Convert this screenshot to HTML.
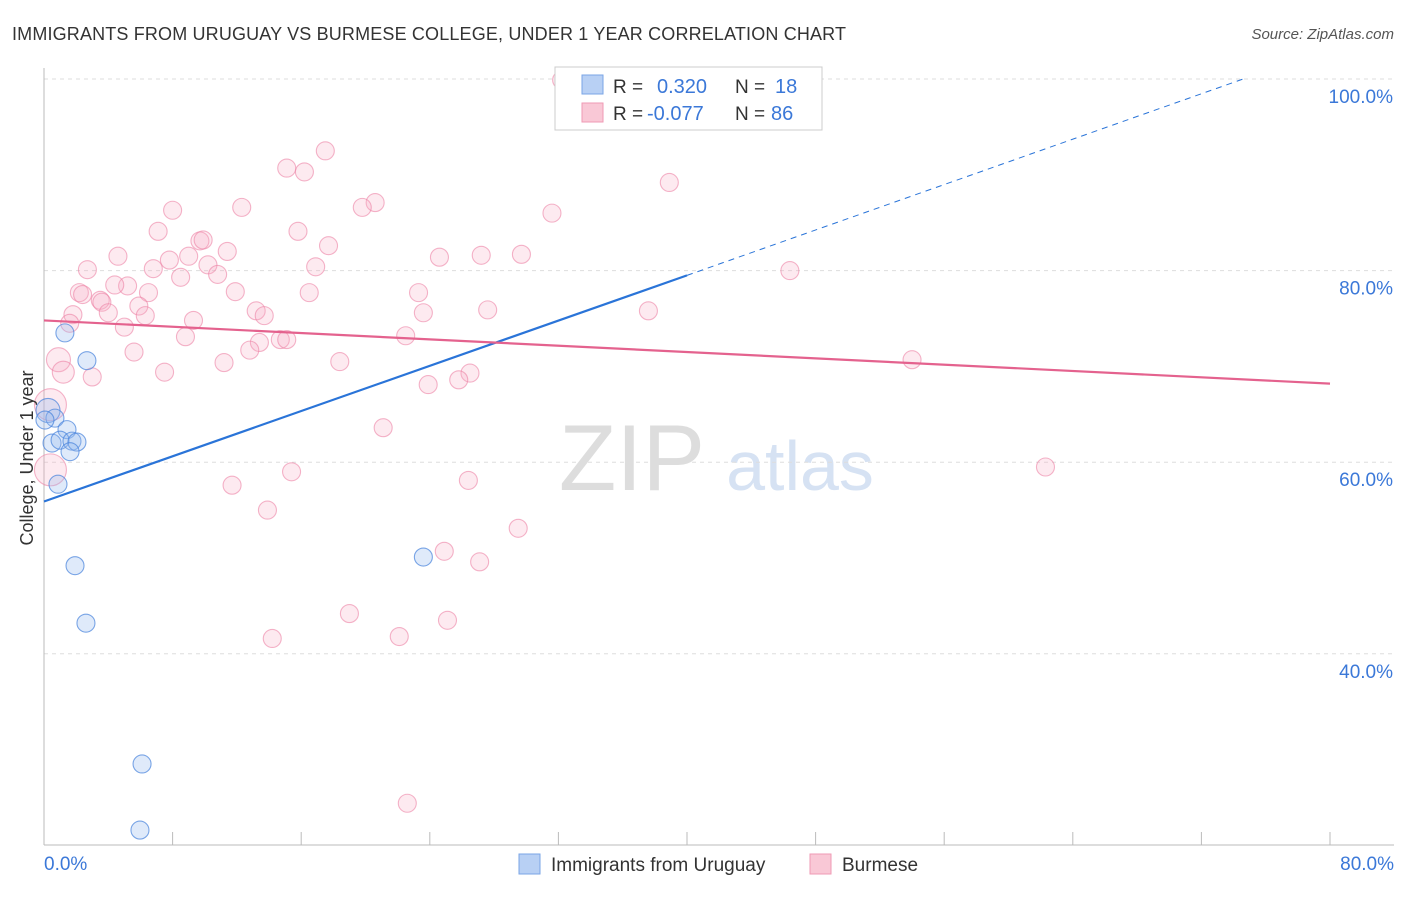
<!DOCTYPE html>
<html><head><meta charset="utf-8"><style>
body{margin:0;background:#fff;font-family:"Liberation Sans",sans-serif}
svg text{font-family:"Liberation Sans",sans-serif}
</style></head><body>
<svg id="c" width="1406" height="892" xmlns="http://www.w3.org/2000/svg">
<text x="12" y="40" font-size="18" fill="#333" textLength="834">IMMIGRANTS FROM URUGUAY VS BURMESE COLLEGE, UNDER 1 YEAR CORRELATION CHART</text>
<text x="1394" y="39" font-size="15" fill="#555" font-style="italic" text-anchor="end">Source: ZipAtlas.com</text>
<g><text x="632" y="490" font-size="94" fill="#ddd" font-family="Liberation Serif" text-anchor="middle">ZIP</text><text x="800" y="490" font-size="70" fill="#d6e2f3" text-anchor="middle">atlas</text></g>
<g id="grid"></g><g id="axes"></g><g id="pts"></g><g id="lines"></g>
<text x="33" y="458" font-size="18" fill="#333" text-anchor="middle" transform="rotate(-90 33 458)">College, Under 1 year</text>
<text x="44" y="870" font-size="19" fill="#3b78d8">0.0%</text>
<text x="1394" y="870" font-size="19" fill="#3b78d8" text-anchor="end">80.0%</text>
<g>
<rect x="555" y="67" width="267" height="63" fill="#fff" stroke="#ccc"/>
<rect x="582" y="75" width="21" height="19" fill="#b8d0f4" stroke="#7aa5e6"/>
<rect x="582" y="103" width="21" height="19" fill="#f9c8d6" stroke="#ef9ab4"/>
<text x="613" y="93" font-size="19" fill="#333">R = </text><text x="657" y="93" font-size="20" fill="#3b78d8">0.320</text>
<text x="735" y="93" font-size="19" fill="#333">N = </text><text x="775" y="93" font-size="20" fill="#3b78d8">18</text>
<text x="613" y="120" font-size="19" fill="#333">R = </text><text x="647" y="120" font-size="20" fill="#3b78d8">-0.077</text>
<text x="735" y="120" font-size="19" fill="#333">N = </text><text x="771" y="120" font-size="20" fill="#3b78d8">86</text>
</g>
<g>
<rect x="519" y="854" width="21" height="20" fill="#b8d0f4" stroke="#7aa5e6"/>
<text x="551" y="871" font-size="19" fill="#333">Immigrants from Uruguay</text>
<rect x="810" y="854" width="21" height="20" fill="#f9c8d6" stroke="#ef9ab4"/>
<text x="842" y="871" font-size="19" fill="#333">Burmese</text>
</g>
</svg>
<script>
const yTicks=[100,80,60,40];
const yTickLabels=["100.0%","80.0%","60.0%","40.0%"];
const xTicks=[0,8,16,24,32,40,48,56,64,72,80];
const blueX=[0.25,0.68,0.5,1.3,2.67,1.43,1.0,1.74,2.05,1.62,0.87,1.93,2.61,6.1,5.97,23.6,35.3,0.06];
const blueY=[65.4,64.6,62.0,73.5,70.6,63.4,62.3,62.2,62.1,61.1,57.7,49.2,43.2,28.5,21.6,50.1,99.9,64.4];
const pinkX=[32.2,17.5,15.1,16.2,38.9,8.0,12.3,20.6,19.8,31.6,7.1,15.8,9.7,9.9,11.4,17.7,27.2,29.7,24.6,4.6,9.0,7.8,6.8,10.2,16.9,2.7,10.8,8.5,46.4,5.2,4.4,2.2,2.4,6.5,11.9,23.3,16.5,3.5,3.6,5.9,13.2,4.0,23.6,27.6,37.6,1.8,6.3,13.7,9.3,1.6,5.0,8.8,22.5,14.7,15.1,13.4,12.8,5.6,0.9,18.4,11.2,54.0,1.2,7.5,3.0,26.5,25.8,23.9,0.4,21.1,0.4,62.3,15.4,26.4,11.7,13.9,29.5,24.9,27.1,19.0,25.1,14.2,22.1,22.6,40.1];
const pinkY=[99.9,92.5,90.7,90.3,89.2,86.3,86.6,87.1,86.6,86.0,84.1,84.1,83.1,83.2,82.0,82.6,81.6,81.7,81.4,81.5,81.5,81.1,80.2,80.6,80.4,80.1,79.6,79.3,80.0,78.4,78.5,77.7,77.5,77.7,77.8,77.7,77.7,76.9,76.7,76.3,75.8,75.6,75.6,75.9,75.8,75.4,75.3,75.3,74.8,74.5,74.1,73.1,73.2,72.8,72.8,72.5,71.7,71.5,70.7,70.5,70.4,70.7,69.4,69.4,68.9,69.3,68.6,68.1,66.0,63.6,59.2,59.5,59.0,58.1,57.6,55.0,53.1,50.7,49.6,44.2,43.5,41.6,41.8,24.4,100];
const bigPink={68:16,58:12,70:16,62:11};
const bigBlue={0:12};
const blueTrend=[55.9,79.5,100];
const blueTrendX=[0,40,74.6];
const pinkTrend=[74.8,68.2];
const pinkTrendX=[0,80];
const NS="http://www.w3.org/2000/svg";
const X=v=>44+v*16.075, Y=v=>79+(100-v)*9.58;
function mk(t,a,p){const e=document.createElementNS(NS,t);for(const k in a)e.setAttribute(k,a[k]);document.getElementById(p).appendChild(e);return e;}
yTicks.forEach((t,i)=>{
 const l=mk('line',{x1:44,x2:1394,y1:Y(t),y2:Y(t),stroke:'#ddd','stroke-dasharray':'4,4'},'grid');
 
 
 const tx=mk('text',{x:1393,y:Y(t)+24,'font-size':19,fill:'#3b78d8','text-anchor':'end'},'grid');tx.textContent=yTickLabels[i];
 
 
});
const ax=mk('line',{x1:44,x2:44,y1:68,y2:845,stroke:'#bbb'},'axes');


const bx=mk('line',{x1:44,x2:1394,y1:845,y2:845,stroke:'#bbb'},'axes');


xTicks.forEach(t=>{const l=mk('line',{x1:X(t),x2:X(t),y1:832,y2:845,stroke:'#bbb'},'axes');
 
 });
pinkX.forEach((v,i)=>{const c=mk('circle',{cx:X(v),cy:Y(pinkY[i]),r:bigPink[i]||9,fill:'rgba(246,170,196,0.25)',stroke:'rgba(236,130,165,0.6)','stroke-width':1.1},'pts');
 
 });
blueX.forEach((v,i)=>{const c=mk('circle',{cx:X(v),cy:Y(blueY[i]),r:bigBlue[i]||9,fill:'rgba(150,185,240,0.3)',stroke:'rgba(70,130,220,0.7)','stroke-width':1.1},'pts');
 
 });
let l1=mk('line',{x1:X(blueTrendX[0]),y1:Y(blueTrend[0]),x2:X(blueTrendX[1]),y2:Y(blueTrend[1]),stroke:'#2a74d8','stroke-width':2.2},'lines');


let l2=mk('line',{x1:X(blueTrendX[1]),y1:Y(blueTrend[1]),x2:X(blueTrendX[2]),y2:Y(blueTrend[2]),stroke:'#2a74d8','stroke-width':1,'stroke-dasharray':'6,5'},'lines');


let l3=mk('line',{x1:X(pinkTrendX[0]),y1:Y(pinkTrend[0]),x2:X(pinkTrendX[1]),y2:Y(pinkTrend[1]),stroke:'#e4628e','stroke-width':2.2},'lines');


</script>
</body></html>
